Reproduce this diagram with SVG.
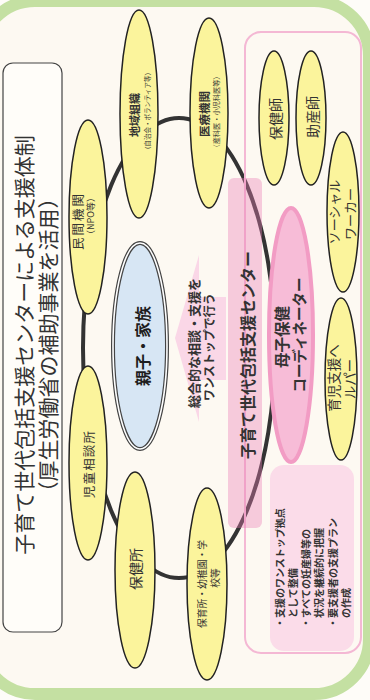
<svg xmlns="http://www.w3.org/2000/svg" width="370" height="700" viewBox="0 0 370 700">
<style>
.t{font-family:"Noto Sans CJK JP","Noto Sans",sans-serif;fill:#333;text-anchor:middle;dominant-baseline:central}
.s{text-anchor:start}
.b{font-weight:bold}
.y{fill:#fbf49c;stroke:#222;stroke-width:1.5}
</style>
<rect x="0" y="0" width="370" height="700" fill="#fefcf8"/>
<rect x="-20" y="1" width="389" height="693" rx="55" fill="#fdf9f2" stroke="#c4e0a2" stroke-width="12"/>
<g id="title">
<rect x="3" y="63" width="59" height="569" rx="10" fill="#fffdf9" stroke="#444" stroke-width="1.2"/>
<text class="t" x="23" y="345" font-size="21" transform="rotate(-90 23 345)">子育て世代包括支援センターによる支援体制</text>
<text class="t" x="47" y="345" font-size="21" transform="rotate(-90 47 345)">（厚生労働省の補助事業を活用）</text>
</g>
<g id="connectors">
<ellipse cx="179" cy="348" rx="96" ry="230" fill="none" stroke="#333" stroke-width="4"/>
<polygon points="175,338 199,255 199,297 226,297 226,380 199,380 199,422" fill="#fad7e7"/>
</g>
<g id="chiiki">
<ellipse class="y" cx="139" cy="114" rx="19" ry="104"/>
<text class="t b" x="134" y="115" font-size="11" transform="rotate(-90 134 115)">地域組織</text>
<text class="t" x="147" y="111" font-size="6.5" transform="rotate(-90 147 111)">（自治会・ボランティア等）</text>
</g>
<g id="iryo">
<ellipse class="y" cx="209" cy="113" rx="19" ry="95"/>
<text class="t b" x="204" y="114" font-size="11.5" transform="rotate(-90 204 114)">医療機関</text>
<text class="t" x="216" y="112" font-size="7.2" transform="rotate(-90 216 112)">（産科医・小児科医等）</text>
</g>
<g id="minkan">
<ellipse class="y" cx="88" cy="217" rx="19" ry="97"/>
<text class="t" x="77" y="221" font-size="12.5" letter-spacing="2" transform="rotate(-90 77 221)">民間機関</text>
<text class="t" x="90" y="216" font-size="9" transform="rotate(-90 90 216)">（NPO等）</text>
</g>
<g id="jido">
<ellipse class="y" cx="88" cy="463" rx="19" ry="97"/>
<text class="t" x="88" y="464" font-size="12.5" letter-spacing="1.2" transform="rotate(-90 88 464)">児童相談所</text>
</g>
<g id="hokenjo">
<ellipse class="y" cx="135" cy="570" rx="20" ry="98"/>
<text class="t" x="135" y="569" font-size="14" transform="rotate(-90 135 569)">保健所</text>
</g>
<g id="hoikujo">
<ellipse class="y" cx="207" cy="584" rx="20" ry="96"/>
<text class="t" x="202" y="584" font-size="9.8" transform="rotate(-90 202 584)">保育所・幼稚園・学</text>
<text class="t" x="215" y="578" font-size="9.8" transform="rotate(-90 215 578)">校等</text>
</g>
<g id="oyako">
<ellipse cx="140" cy="346" rx="27" ry="103" fill="#d7e6f4" stroke="#444" stroke-width="4"/>
<ellipse cx="140" cy="346" rx="27" ry="103" fill="none" stroke="#fff" stroke-width="1.6"/>
<text class="t b" x="142" y="346" font-size="16" transform="rotate(-90 142 346)" style="fill:#1e1e1e">親子・家族</text>
</g>
<g id="message">
<text class="t b" x="193" y="343" font-size="13" transform="rotate(-90 193 343)">総合的な相談・支援を</text>
<text class="t b" x="208.5" y="347" font-size="12" transform="rotate(-90 208.5 347)">ワンストップで行う</text>
</g>
<g id="center">
<rect x="245" y="32" width="116" height="621" rx="16" fill="none" stroke="#f4b8d4" stroke-width="2"/>
<rect x="228" y="178" width="34" height="350" rx="6" fill="#ea7db5" opacity="0.38"/>
<text class="t b" x="247" y="355" font-size="16" transform="rotate(-90 247 355)">子育て世代包括支援センター</text>
</g>
<g id="hokenshi">
<ellipse class="y" cx="274" cy="118" rx="15" ry="67"/>
<text class="t" x="275" y="119" font-size="14" transform="rotate(-90 275 119)">保健師</text>
</g>
<g id="josanshi">
<ellipse class="y" cx="311" cy="118" rx="15" ry="67"/>
<text class="t" x="312" y="117" font-size="14" transform="rotate(-90 312 117)">助産師</text>
</g>
<g id="social">
<ellipse class="y" cx="343" cy="212" rx="16" ry="80"/>
<text class="t" x="333" y="212" font-size="13" transform="rotate(-90 333 212)">ソーシャル</text>
<text class="t" x="349" y="214" font-size="13" transform="rotate(-90 349 214)">ワーカー</text>
</g>
<g id="helper">
<ellipse class="y" cx="341" cy="379" rx="16" ry="81"/>
<text class="t" x="333" y="378" font-size="13.5" transform="rotate(-90 333 378)">育児支援へ</text>
<text class="t" x="349" y="379" font-size="13.5" transform="rotate(-90 349 379)">ルパー</text>
</g>
<g id="coordinator">
<ellipse cx="291" cy="335" rx="22" ry="127" fill="#f7bcd7" stroke="#f29cc4" stroke-width="4"/>
<text class="t b" x="281" y="337" font-size="15.5" transform="rotate(-90 281 337)">母子保健</text>
<text class="t b" x="298" y="335" font-size="14.5" transform="rotate(-90 298 335)">コーディネーター</text>
</g>
<g id="roles">
<rect x="270" y="465" width="84" height="186" rx="14" fill="#fbdce9"/>
<text class="t b s" x="279" y="628" font-size="10" transform="rotate(-90 279 628)">・支援のワンストップ拠点</text>
<text class="t b s" x="292" y="618" font-size="10" transform="rotate(-90 292 618)">として整備</text>
<text class="t b s" x="305.5" y="628" font-size="10" transform="rotate(-90 305.5 628)">・すべての妊産婦等の</text>
<text class="t b s" x="318.5" y="618" font-size="10" transform="rotate(-90 318.5 618)">状況を継続的に把握</text>
<text class="t b s" x="332" y="628" font-size="10" transform="rotate(-90 332 628)">・要支援者の支援プラン</text>
<text class="t b s" x="345" y="618" font-size="10" transform="rotate(-90 345 618)">の作成</text>
</g>
</svg>
